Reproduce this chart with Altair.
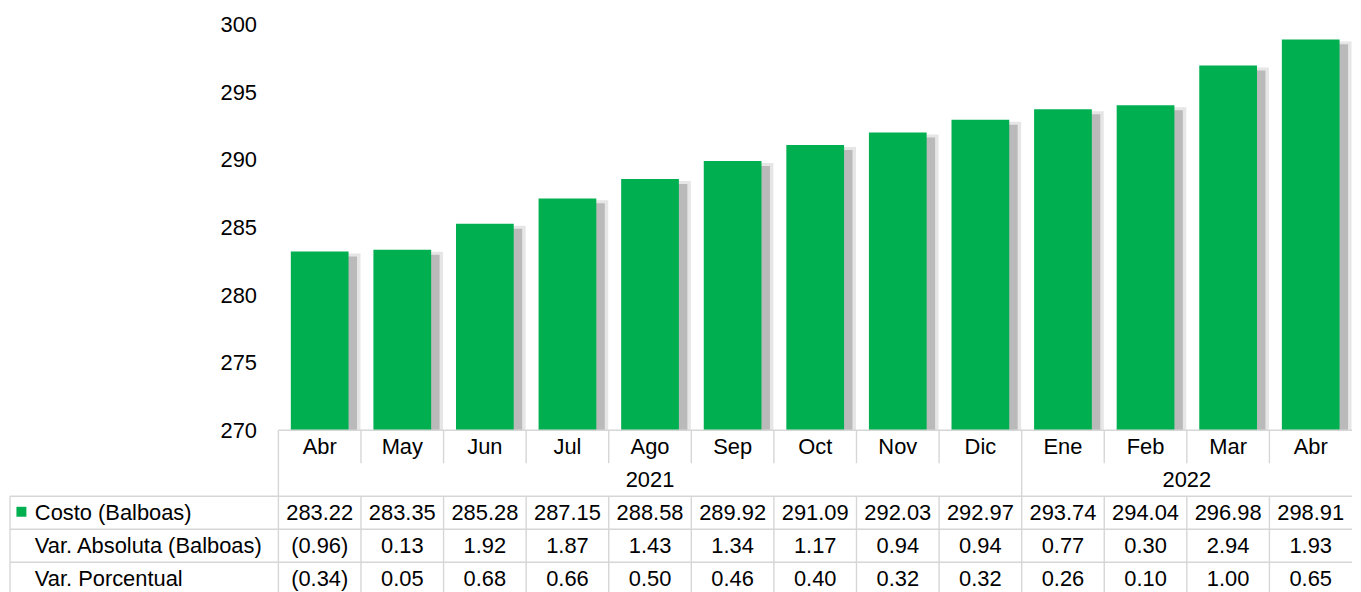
import altair as alt
import pandas as pd

# ---------------- data ----------------
months = ["Abr", "May", "Jun", "Jul", "Ago", "Sep", "Oct", "Nov", "Dic", "Ene", "Feb", "Mar", "Abr"]
years = ["2021"] * 9 + ["2022"] * 4
costo = [283.22, 283.35, 285.28, 287.15, 288.58, 289.92, 291.09, 292.03, 292.97, 293.74, 294.04, 296.98, 298.91]
var_abs = [-0.96, 0.13, 1.92, 1.87, 1.43, 1.34, 1.17, 0.94, 0.94, 0.77, 0.30, 2.94, 1.93]
var_pct = [-0.34, 0.05, 0.68, 0.66, 0.50, 0.46, 0.40, 0.32, 0.32, 0.26, 0.10, 1.00, 0.65]
row_labels = ["Costo (Balboas)", "Var. Absoluta (Balboas)", "Var. Porcentual"]
y_ticks = [270, 275, 280, 285, 290, 295, 300]

# ---------------- style / layout ----------------
GREEN = "#00B050"
GRID = "#d6d6d6"
FONT = "Liberation Sans"
FS = 22
N = len(months)
LABEL_COLS = 3.25          # width of the row-label column, in column units
W = 1350
BAR_H = 408
TABLE_ROWS = 5
TABLE_H = 166
LABEL_PX = LABEL_COLS * W / (N + LABEL_COLS)

xs = alt.Scale(domain=[-LABEL_COLS, N], nice=False, zero=False)

# ---------------- bar chart ----------------
bars_df = pd.DataFrame({"start": list(range(N)), "costo": costo})
bars_df["end"] = bars_df["start"] + 1

ys = alt.Scale(domain=[y_ticks[0], y_ticks[-1]], nice=False, zero=False)
base = alt.Chart(bars_df).encode(
    x=alt.X("start:Q", scale=xs, axis=None),
    x2="end:Q",
    y=alt.Y(
        "costo:Q",
        scale=ys,
        axis=alt.Axis(
            values=y_ticks, offset=-LABEL_PX, ticks=False, tickSize=0, domain=False,
            grid=False, labelFontSize=FS, labelFont=FONT, labelColor="black",
            labelPadding=22, title=None,
        ),
    ),
    y2=alt.datum(y_ticks[0]),
)
halo = base.mark_bar(color="#e6e6e6", xOffset=14.5, x2Offset=-0.5, yOffset=2)
shadow = base.mark_bar(color="#bababa", xOffset=18.5, x2Offset=-4, yOffset=5)
bar = base.mark_bar(color=GREEN, xOffset=12.5, x2Offset=-12.5)
bar_chart = alt.layer(halo, shadow, bar).properties(width=W, height=BAR_H)

# ---------------- table ----------------
def fmt(v):
    return f"({abs(v):.2f})" if v < 0 else f"{v:.2f}"

cells = []
for i in range(N):
    cells.append({"idx": i, "row": 0, "label": months[i]})
    cells.append({"idx": i, "row": 2, "label": f"{costo[i]:.2f}"})
    cells.append({"idx": i, "row": 3, "label": fmt(var_abs[i])})
    cells.append({"idx": i, "row": 4, "label": fmt(var_pct[i])})
cells_df = pd.DataFrame(cells)

years_df = pd.DataFrame({"idx": list(range(N)), "year": years})
rowlab_df = pd.DataFrame({"row": [2, 3, 4], "label": row_labels})

rules = []
rules.append({"x": 0, "x2": N, "y": 0, "y2": 0})
for r in range(2, TABLE_ROWS + 1):
    rules.append({"x": -LABEL_COLS, "x2": N, "y": r, "y2": r})
rules.append({"x": -LABEL_COLS, "x2": -LABEL_COLS, "y": 2, "y2": TABLE_ROWS})
for b in range(0, N):
    if b == 0 or years[b] != years[b - 1]:
        rules.append({"x": b, "x2": b, "y": 0, "y2": TABLE_ROWS})
    else:
        rules.append({"x": b, "x2": b, "y": 0, "y2": 1})
        rules.append({"x": b, "x2": b, "y": 2, "y2": TABLE_ROWS})
rules_df = pd.DataFrame(rules)

ts = alt.Scale(domain=[0, TABLE_ROWS], nice=False, zero=False, reverse=True)

grid = alt.Chart(rules_df).mark_rule(color=GRID, strokeWidth=1.4).encode(
    x=alt.X("x:Q", scale=xs, axis=None),
    x2="x2:Q",
    y=alt.Y("y:Q", scale=ts, axis=None),
    y2="y2:Q",
)

cell_text = alt.Chart(cells_df).mark_text(
    font=FONT, fontSize=FS, color="black", align="center", baseline="middle"
).transform_calculate(
    xc="datum.idx + 0.5", yc="datum.row + 0.5"
).encode(
    x=alt.X("xc:Q", scale=xs, axis=None),
    y=alt.Y("yc:Q", scale=ts, axis=None),
    text="label:N",
)

year_text = alt.Chart(years_df).transform_aggregate(
    lo="min(idx)", hi="max(idx)", groupby=["year"]
).transform_calculate(
    xc="(datum.lo + datum.hi + 1) / 2", yc="1.5"
).mark_text(
    font=FONT, fontSize=FS, color="black", align="center", baseline="middle"
).encode(
    x=alt.X("xc:Q", scale=xs, axis=None),
    y=alt.Y("yc:Q", scale=ts, axis=None),
    text="year:N",
)

row_text = alt.Chart(rowlab_df).transform_calculate(
    yc="datum.row + 0.5"
).mark_text(
    font=FONT, fontSize=FS, color="black", align="left", baseline="middle", xOffset=25
).encode(
    x=alt.datum(-LABEL_COLS, scale=xs),
    y=alt.Y("yc:Q", scale=ts, axis=None),
    text="label:N",
)

legend_sq = alt.Chart(rowlab_df.iloc[[0]]).transform_calculate(
    yc="datum.row + 0.5"
).mark_point(
    shape="square", filled=True, size=100, color=GREEN, opacity=1, xOffset=11.5, yOffset=-1
).encode(
    x=alt.datum(-LABEL_COLS, scale=xs),
    y=alt.Y("yc:Q", scale=ts, axis=None),
)

table_chart = alt.layer(grid, cell_text, year_text, row_text, legend_sq).properties(
    width=W, height=TABLE_H
)

chart = alt.vconcat(bar_chart, table_chart, spacing=0, bounds="flush").properties(
    padding={"left": 1, "top": 4, "right": 0, "bottom": 0},
    background="white",
).configure_view(strokeWidth=0)

chart.save("out.html", embed_options={"renderer": "svg", "actions": False})
